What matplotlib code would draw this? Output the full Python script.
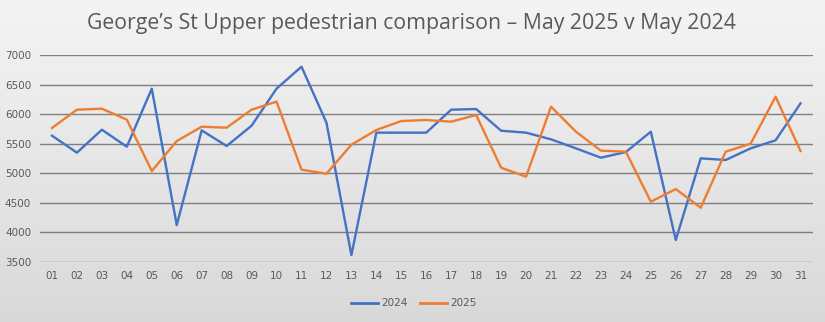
import numpy as np
import matplotlib
matplotlib.use("Agg")
import matplotlib.pyplot as plt
from matplotlib.lines import Line2D

days = ["%02d" % d for d in range(1, 32)]

may_2024 = [5634, 5346, 5735, 5447, 6430, 4120, 5724, 5459, 5803, 6430,
            6802, 5854, 3612, 5685, 5685, 5685, 6074, 6085, 5718, 5685,
            5572, 5419, 5261, 5357, 5701, 3867, 5250, 5222, 5419, 5555,
            6181]

may_2025 = [5764, 6074, 6091, 5905, 5035, 5543, 5786, 5769, 6074, 6210,
            5058, 4990, 5481, 5730, 5882, 5899, 5871, 5984, 5092, 4939,
            6125, 5701, 5380, 5363, 4516, 4730, 4414, 5363, 5498, 6294,
            5374]

y_ticks = [3500, 4000, 4500, 5000, 5500, 6000, 6500, 7000]

blue = "#4472c4"
orange = "#ed7d31"
text_grey = "#595959"

W, H = 825, 322
fig = plt.figure(figsize=(W / 100, H / 100), dpi=100)

# background gradient, light at top, darker at bottom
bg = fig.add_axes([0, 0, 1, 1], zorder=-10)
grad = np.linspace(0, 1, 256).reshape(-1, 1)
bg.imshow(grad, aspect="auto", cmap=matplotlib.colors.LinearSegmentedColormap.from_list(
    "bg", ["#f4f4f4", "#d9d9d9"]), extent=[0, 1, 0, 1], origin="upper")
bg.set_axis_off()

left, right = 39.5, 813
top, bottom = 55, 261.7
ax = fig.add_axes([left / W, 1 - bottom / H, (right - left) / W, (bottom - top) / H])
ax.patch.set_alpha(0)

x = np.arange(len(days))
ax.plot(x, may_2024, color=blue, lw=1.7, label="2024", solid_joinstyle="round")
ax.plot(x, may_2025, color=orange, lw=1.7, label="2025", solid_joinstyle="round")

ax.set_xlim(-0.5, len(days) - 0.5)
ax.set_ylim(3500, 7000)
ax.set_yticks(y_ticks)
ax.set_xticks(x)
ax.set_xticklabels(days)
ax.grid(axis="y", color="#7f7f7f", lw=1.0)
ax.set_axisbelow(True)
for s in ax.spines.values():
    s.set_visible(False)
ax.tick_params(length=0, labelsize=7.5, colors=text_grey, pad=7)
ax.tick_params(axis="y", pad=6)
for lab in ax.get_yticklabels():
    lab.set_horizontalalignment("right")

fig.text(411 / W, 1 - 23 / H, "George\u2019s St Upper pedestrian comparison \u2013 May 2025 v May 2024",
         ha="center", va="center", fontsize=15.3, color=text_grey, family="Open Sans")

handles = [Line2D([], [], color=blue, lw=2), Line2D([], [], color=orange, lw=2)]
fig.legend(handles, ["2024", "2025"], loc="center", bbox_to_anchor=(414 / W, 1 - 303.5 / H),
           ncol=2, frameon=False, fontsize=7.5, labelcolor=text_grey,
           handlelength=2.6, handletextpad=0.3, columnspacing=1.2)

fig.savefig("out.png", dpi=100)
